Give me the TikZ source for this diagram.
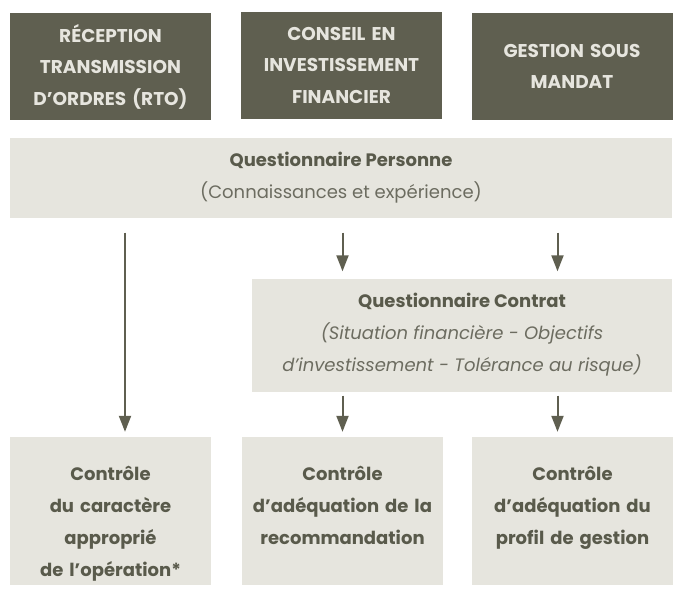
\documentclass[tikz,border=0pt]{standalone}
\usepackage{fontspec}
\setmainfont{Poppins}
\usetikzlibrary{positioning, arrows.meta}
\definecolor{olive}{HTML}{5F5F50}
\definecolor{sand}{HTML}{E6E5DE}
\definecolor{ink}{HTML}{595A4B}
\definecolor{softink}{HTML}{6C6C60}
\tikzset{x=1pt, y=-1pt,
>={Triangle[width=12pt,length=16pt]}, % filled arrow heads
service/.style={fill=olive, text=sand, inner sep=0pt, align=center,
  minimum width=201pt, minimum height=107pt, text width=198pt,
  font=\bfseries\fontsize{18.5}{31.5}\selectfont}, % dark header boxes
panel/.style={fill=sand, text=ink, inner sep=0pt, align=center,
  font=\fontsize{18}{32}\selectfont}, % light boxes
control/.style={panel, minimum width=201pt, minimum height=148pt},
controltext/.style={text=ink, align=center, text width=198pt,
  font=\bfseries\fontsize{18}{32}\selectfont},
flow/.style={->, draw=olive, line width=2pt},
}

\begin{document}
\begin{tikzpicture}
    \useasboundingbox (0,0) rectangle (678,589);
    % services
    \node[service] (rto) at (110.5,66.5) {RÉCEPTION\\TRANSMISSION\\D’ORDRES (RTO)};
    \node[service] (cif) at (341.5,65) {CONSEIL EN\\INVESTISSEMENT\\FINANCIER};
    \node[service] (gsm) at (572,66.5) {GESTION SOUS\\MANDAT};
    % questionnaires
    \node[panel, minimum width=662pt, minimum height=80pt] (qp) at (341,177.5)
      {{\bfseries Questionnaire Personne}\\ \color{softink}(Connaissances et expérience)};
    \node[panel, minimum width=420pt, minimum height=113pt] (qc) at (462,335)
      {{\bfseries Questionnaire Contrat}\\
       \color{softink}\itshape (Situation financière - Objectifs\\
       \color{softink}\itshape d’investissement - Tolérance au risque)};
    % controles
    \node[control] (c1) at (110.5,511) {};
    \node[control] (c2) at (342.5,511) {};
    \node[control] (c3) at (572.5,511) {};
    \node[controltext, below=26pt of c1.north] (c1txt) {Contrôle\\du caractère\\approprié\\de l’opération*};
    \node[controltext, below=26pt of c2.north] (c2txt) {Contrôle\\d’adéquation de la\\recommandation};
    \node[controltext, below=26pt of c3.north] (c3txt) {Contrôle\\d’adéquation du\\profil de gestion};
    % arrows
    \draw[flow, shorten <=15pt, shorten >=5pt] ([xshift=14.5pt]qp.south -| c1.north) -- ([xshift=14.5pt]c1.north);
    \draw[flow, shorten <=15pt, shorten >=7pt] (qp.south -| c2.north) -- (qc.north -| c2.north);
    \draw[flow, shorten <=15pt, shorten >=7pt] ([xshift=-15pt]qp.south -| c3.north) -- ([xshift=-15pt]qc.north -| c3.north);
    \draw[flow, shorten <=4pt, shorten >=5pt] (qc.south -| c2.north) -- (c2.north);
    \draw[flow, shorten <=4pt, shorten >=5pt] ([xshift=-15pt]qc.south -| c3.north) -- ([xshift=-15pt]c3.north);
\end{tikzpicture}
\end{document}
